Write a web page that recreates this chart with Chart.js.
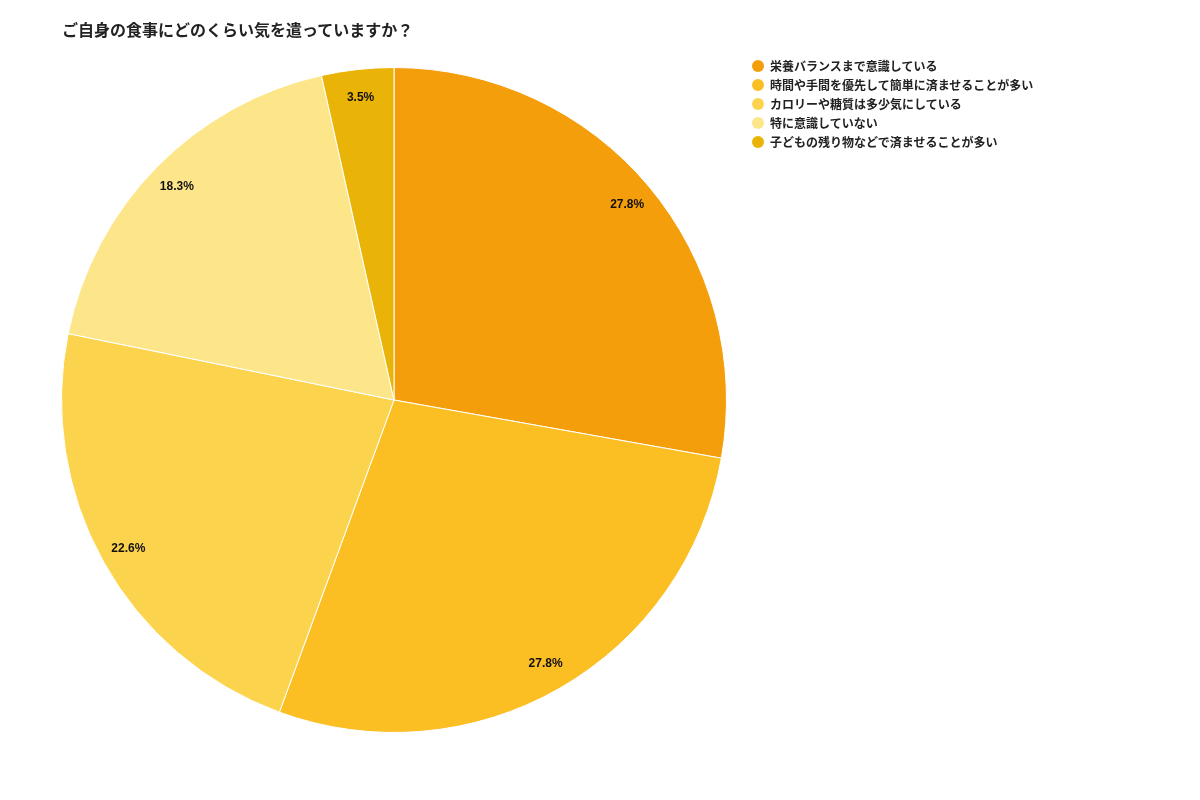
<!DOCTYPE html>
<html>
<head>
<meta charset="utf-8">
<script src="https://cdn.jsdelivr.net/npm/chart.js@4.4.0/dist/chart.umd.min.js"></script>
<style>
  html,body{margin:0;padding:0;background:#fff;}
  body{width:1200px;height:800px;position:relative;overflow:hidden;font-family:"Noto Sans CJK JP","Noto Sans",sans-serif;}
  #title{position:absolute;left:62px;top:17px;font-size:16px;font-weight:bold;color:#222;}
  #legend{position:absolute;left:752px;top:56px;font-size:12px;font-weight:bold;color:#222;}
  #legend div{height:19px;line-height:16px;display:flex;align-items:center;}
  #legend span.dot{width:12px;height:12px;border-radius:50%;display:inline-block;margin-right:6px;}
  #wrap{position:absolute;left:0;top:0;width:1200px;height:800px;}
</style>
</head>
<body>
<div id="wrap"><canvas id="chart"></canvas></div>
<div id="title">ご自身の食事にどのくらい気を遣っていますか？</div>
<div id="legend"></div>
<script>
var labels=['栄養バランスまで意識している','時間や手間を優先して簡単に済ませることが多い','カロリーや糖質は多少気にしている','特に意識していない','子どもの残り物などで済ませることが多い'];
var values=[27.8,27.8,22.6,18.3,3.5];
var colors=['#F59E0B','#FBBF24','#FCD34D','#FDE68A','#EAB308'];

// legend built by hand (html)
var lg=document.getElementById('legend');
labels.forEach(function(l,i){
  var d=document.createElement('div');
  d.innerHTML='<span class="dot" style="background:'+colors[i]+'"></span>'+l;
  lg.appendChild(d);
});

// draw the % text on each slice
var pctLabels={
  id:'pctLabels',
  afterDatasetsDraw:function(chart){
    var ctx=chart.ctx;
    var meta=chart.getDatasetMeta(0);
    ctx.save();
    ctx.font='bold 12px "Liberation Sans", Arial, sans-serif';
    ctx.fillStyle='#111';
    ctx.textAlign='center';
    ctx.textBaseline='middle';
    meta.data.forEach(function(arc,i){
      var p=arc.getProps(['x','y','startAngle','endAngle','outerRadius'],true);
      var a=(p.startAngle+p.endAngle)/2;
      var r=p.outerRadius*0.915;
      ctx.fillText(values[i].toFixed(1)+'%',p.x+Math.cos(a)*r,p.y+Math.sin(a)*r);
    });
    ctx.restore();
  }
};

var ctx=document.getElementById('chart').getContext('2d');
var chart=new Chart(ctx,{
  type:'pie',
  data:{
    labels:labels,
    datasets:[{
      data:values,
      backgroundColor:colors,
      borderColor:'#ffffff',
      borderWidth:1
    }]
  },
  options:{
    responsive:true,
    maintainAspectRatio:false,
    animation:false,
    layout:{padding:{left:61,top:67,right:473,bottom:67}},
    plugins:{
      legend:{display:false},
      tooltip:{enabled:false}
    }
  },
  plugins:[pctLabels]
});
</script>
</body>
</html>
